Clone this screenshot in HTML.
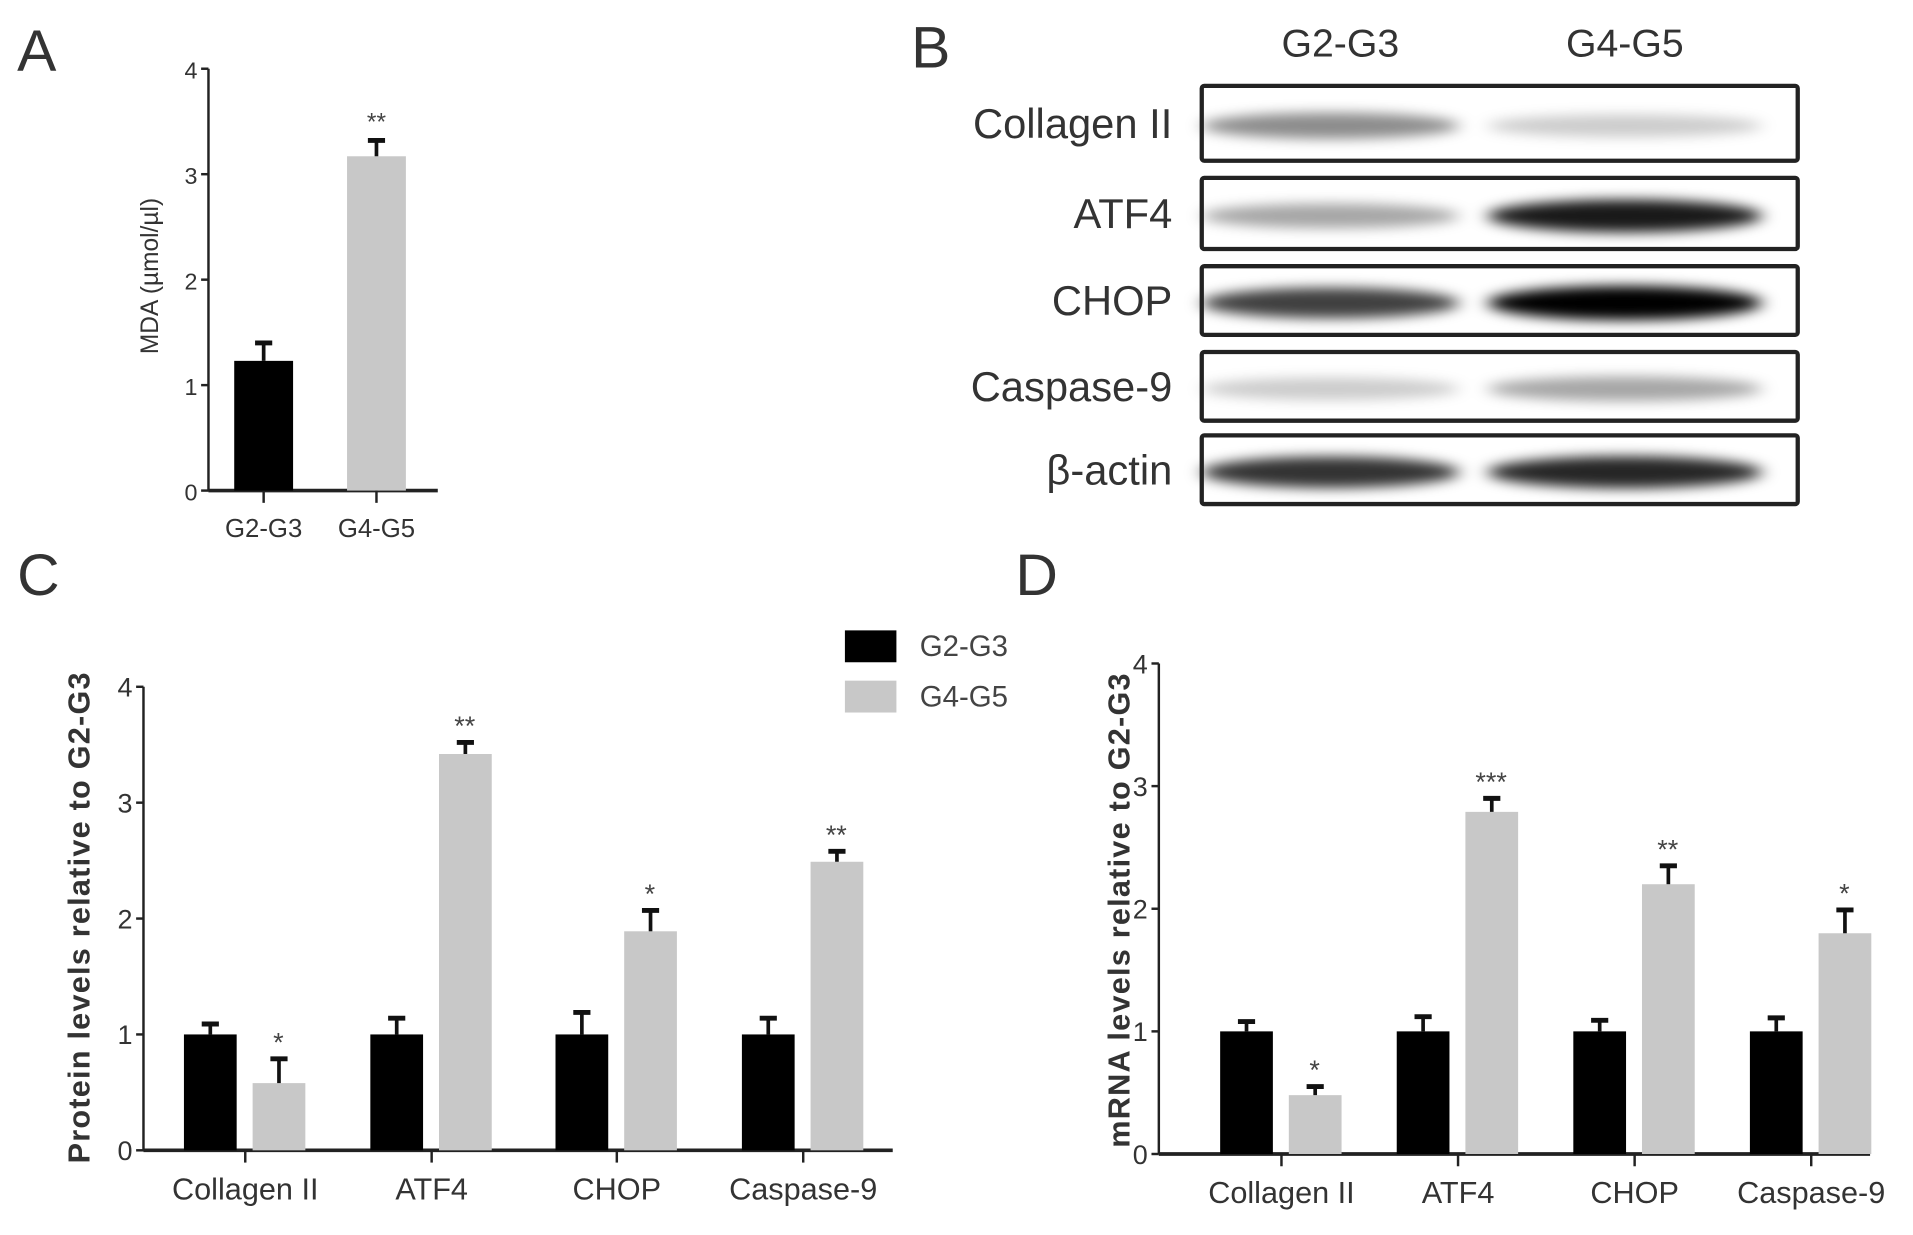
<!DOCTYPE html>
<html><head><meta charset="utf-8"><style>
html,body{margin:0;padding:0;background:#fff;}
svg{display:block;font-family:"Liberation Sans",sans-serif;}
</style></head><body>
<svg id="fig" width="1913" height="1235" viewBox="0 0 1560 1007" xmlns="http://www.w3.org/2000/svg">
<defs>
<filter id="blur" x="-30%" y="-100%" width="160%" height="300%"><feGaussianBlur stdDeviation="7 5"/></filter>
</defs>
<g id="panelA"></g>
<g id="panelB"></g>
<g id="panelC"></g>
<g id="panelD"></g>
</svg>
<script>
const NS="http://www.w3.org/2000/svg";
// Panel A data
const aCategories=["G2-G3","G4-G5"];
const aValues=[1.23,3.17];
const aErrors=[0.17,0.15];
const aStars=["","**"];
const aTicks=[0,1,2,3,4];
// Panel C data
const cCategories=["Collagen II","ATF4","CHOP","Caspase-9"];
const cG23=[1,1,1,1];
const cG23Err=[0.09,0.14,0.19,0.14];
const cG45=[0.58,3.42,1.89,2.49];
const cG45Err=[0.21,0.1,0.18,0.09];
const cStars=["*","**","*","**"];
// Panel D data
const dCategories=["Collagen II","ATF4","CHOP","Caspase-9"];
const dG23=[1,1,1,1];
const dG23Err=[0.08,0.12,0.09,0.11];
const dG45=[0.48,2.79,2.2,1.8];
const dG45Err=[0.07,0.11,0.15,0.19];
const dStars=["*","***","**","*"];
const ticks4=[0,1,2,3,4];
// Blot data
const blotLabels=["Collagen II","ATF4","CHOP","Caspase-9","β-actin"];
const blotG23=[0.45,0.35,0.75,0.2,0.8];
const blotG45=[0.2,0.9,1.0,0.35,0.85];

function el(tag,attrs,parent,text){const e=document.createElementNS(NS,tag);for(const k in attrs)e.setAttribute(k,attrs[k]);if(text!==undefined)e.textContent=text;parent.appendChild(e);return e;}

function letter(p,t,x,y){const e=el("text",{x:x,y:y,"font-size":48,fill:"#333"},p,t);

}

function axis(p,o){
  const yS=v=>o.y0-(o.y0-o.yTop)*v/o.max;
  const ax=el("line",{x1:o.x0,y1:o.yTop,x2:o.x0,y2:o.y0,stroke:"#222","stroke-width":2},p);
  
  
  const bx=el("line",{x1:o.x0,y1:o.y0,x2:o.x1,y2:o.y0,stroke:"#222","stroke-width":3},p);
  
  
  o.ticks.forEach(t=>{
    el("line",{x1:o.x0-6,y1:yS(t),x2:o.x0,y2:yS(t),stroke:"#222","stroke-width":2},p);
    const tx=el("text",{x:o.x0-9,y:yS(t)+8,"font-size":o.tf,"text-anchor":"end",fill:"#333"},p,t);
    
    
  });
  return yS;
}

function bar(p,x,w,y0,yv,yErr,color,name){
  const r=el("rect",{x:x,y:yv,width:w,height:y0-yv,fill:color},p);
  
  
  const cx=x+w/2;
  el("line",{x1:cx,y1:yv,x2:cx,y2:yErr,stroke:"#111","stroke-width":3},p);
  el("line",{x1:cx-7,y1:yErr,x2:cx+7,y2:yErr,stroke:"#111","stroke-width":4},p);
}

// ---- Panel A
(function(){
  const p=document.getElementById("panelA");
  letter(p,"A",14,58);
  const yS=axis(p,{x0:170,x1:357,y0:400,yTop:56,max:4,ticks:aTicks,tf:19});
  const centers=[215,307];
  aValues.forEach((v,i)=>{
    bar(p,centers[i]-24,48,400,yS(v),yS(v+aErrors[i]),i?"#c8c8c8":"#000","bar-"+aCategories[i].toLowerCase());
    el("line",{x1:centers[i],y1:400,x2:centers[i],y2:410,stroke:"#222","stroke-width":2},p);
    const t=el("text",{x:centers[i],y:438,"font-size":21,"text-anchor":"middle",fill:"#333"},p,aCategories[i]);
    
    
    if(aStars[i]){el("text",{x:centers[i],y:yS(v+aErrors[i])-8,"font-size":20,"text-anchor":"middle",fill:"#444"},p,aStars[i]);}
  });
  const yt=el("text",{x:0,y:0,"font-size":20,"text-anchor":"middle",fill:"#333",transform:"translate(129,225) rotate(-90)"},p,"MDA (µmol/µl)");
  
  
})();

// ---- Panel B
(function(){
  const p=document.getElementById("panelB");
  letter(p,"B",743,55);
  [["G2-G3",1093],["G4-G5",1325]].forEach(h=>{
    const t=el("text",{x:h[1],y:46,"font-size":32,"text-anchor":"middle",fill:"#333"},p,h[0]);
    
    
  });
  const rows=[[70,131],[145,203],[217,273],[287,343],[355,411]];
  rows.forEach((r,i)=>{
    const lb=el("text",{x:956,y:(r[0]+r[1])/2+12,"font-size":34,"text-anchor":"end",fill:"#333"},p,blotLabels[i]);
    
    
    const cy=(r[0]+r[1])/2+2;
    const g=el("g",{filter:"url(#blur)"},p);
    const b1=el("ellipse",{cx:1085,cy:cy,rx:105,ry:8+6*blotG23[i],fill:"#000","fill-opacity":blotG23[i]},g);
    
    
    const b2=el("ellipse",{cx:1325,cy:cy,rx:112,ry:8+6*blotG45[i],fill:"#000","fill-opacity":blotG45[i]},g);
    
    
    const box=el("rect",{x:980,y:r[0],width:486,height:r[1]-r[0],fill:"none",stroke:"#222","stroke-width":3.5,rx:2},p);
    
    
  });
})();

function grouped(p,o){
  const yS=axis(p,{x0:o.x0,x1:o.x1,y0:o.y0,yTop:o.yTop,max:4,ticks:ticks4,tf:22});
  o.cats.forEach((c,i)=>{
    const t=o.tick[i];
    bar(p,t-50,43,o.y0,yS(o.a[i]),yS(o.a[i]+o.ae[i]),"#000","bar-g2-g3");
    bar(p,t+6,43,o.y0,yS(o.b[i]),yS(o.b[i]+o.be[i]),"#c8c8c8","bar-g4-g5");
    el("line",{x1:t,y1:o.y0,x2:t,y2:o.y0+10,stroke:"#222","stroke-width":2},p);
    const lb=el("text",{x:t,y:o.y0+40,"font-size":25,"text-anchor":"middle",fill:"#333"},p,c);
    
    
    el("text",{x:t+27,y:yS(o.b[i]+o.be[i])-6,"font-size":22,"text-anchor":"middle",fill:"#444"},p,o.stars[i]);
  });
  const yt=el("text",{x:0,y:0,"font-size":25,"font-weight":"bold","text-anchor":"middle",fill:"#333",transform:"translate("+o.tx+","+o.ty+") rotate(-90)","letter-spacing":1},p,o.title);
  
  
}

// ---- Panel C
(function(){
  const p=document.getElementById("panelC");
  letter(p,"C",14,485);
  grouped(p,{x0:117,x1:728,y0:938,yTop:560,cats:cCategories,tick:[200,352,503,655],a:cG23,ae:cG23Err,b:cG45,be:cG45Err,stars:cStars,title:"Protein levels relative to G2-G3",tx:73,ty:748});
  const l1=el("rect",{x:689,y:514,width:42,height:26,fill:"#000"},p);
  
  
  const l2=el("rect",{x:689,y:555,width:42,height:26,fill:"#c8c8c8"},p);
  
  
  const t1=el("text",{x:750,y:535,"font-size":24,fill:"#444"},p,"G2-G3");
  
  
  const t2=el("text",{x:750,y:576,"font-size":24,fill:"#444"},p,"G4-G5");
  
  
})();

// ---- Panel D
(function(){
  const p=document.getElementById("panelD");
  letter(p,"D",828,485);
  grouped(p,{x0:945,x1:1525,y0:941,yTop:541,cats:dCategories,tick:[1045,1189,1333,1477],a:dG23,ae:dG23Err,b:dG45,be:dG45Err,stars:dStars,title:"mRNA levels relative to G2-G3",tx:921,ty:742});
})();
</script>
</body></html>
